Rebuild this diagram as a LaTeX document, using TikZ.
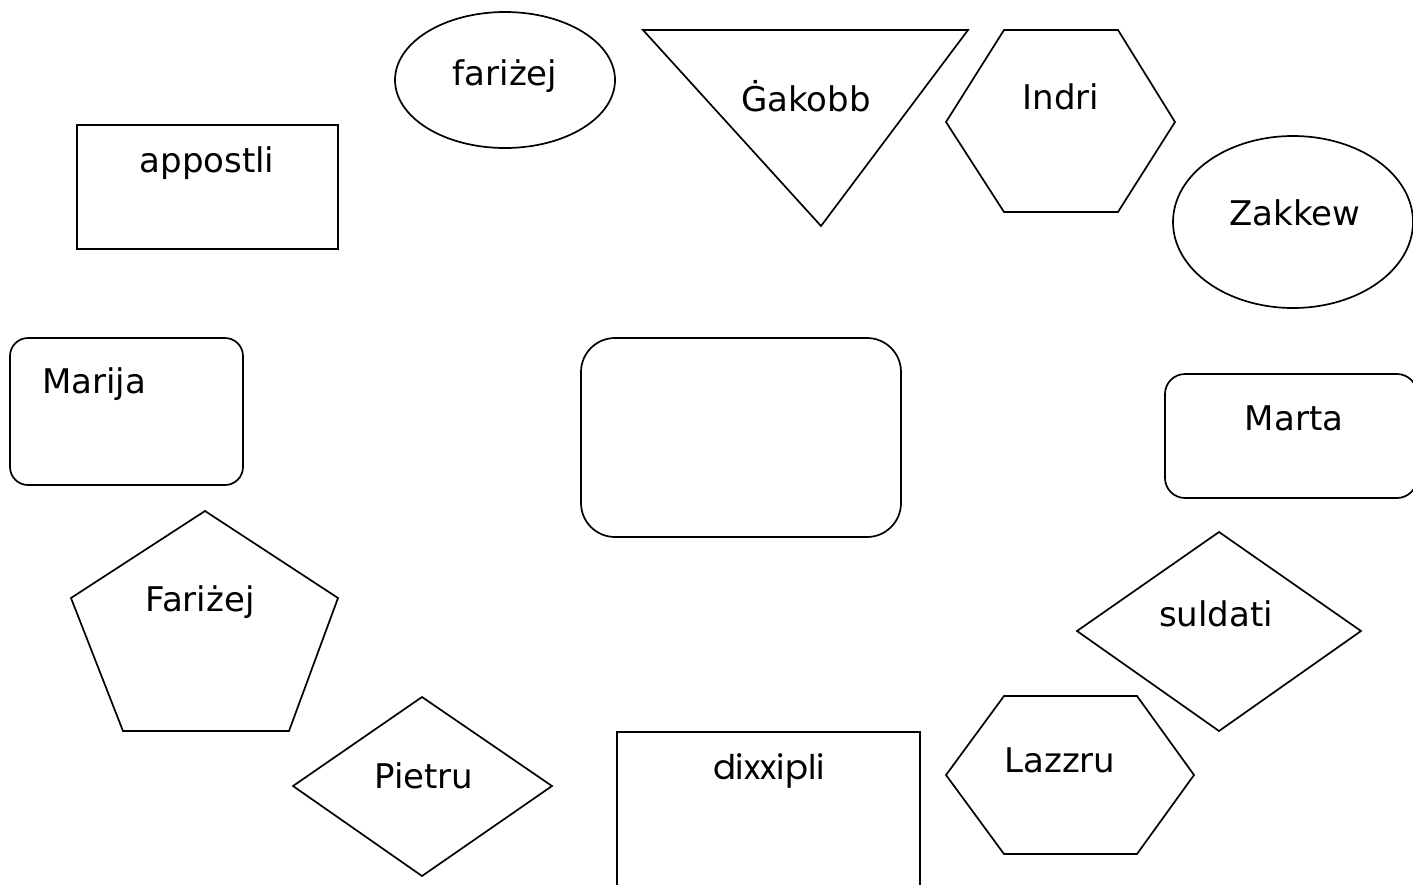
\documentclass[tikz,border=0pt]{standalone}
\usepackage{fontspec}
\setmainfont{DejaVu Sans}
\newfontfamily\gothicfont{Poppins}
\usetikzlibrary{positioning}

\begin{document}
\begin{tikzpicture}[x=0.5pt,y=-0.5pt,
      shp/.style={draw=black, line width=0.85pt, fill=white},
      lbl/.style={inner sep=0pt, font=\fontsize{17}{20}\selectfont}]
    \useasboundingbox (0,0) rectangle (1413,884);
    \clip (0,0) rectangle (1413,884);
    \draw[shp] (77,125) rectangle (338,249);
    \draw[shp] (505,80) ellipse [x radius=110, y radius=68];
    \draw[shp] (643,30) -- (968,30) -- (821,226) -- cycle;
    \draw[shp] (1004,30) -- (1118,30) -- (1175,122) -- (1118,212) -- (1004,212) -- (946,122) -- cycle;
    \draw[shp] (1293,222) ellipse [x radius=120, y radius=86];
    \draw[shp, rounded corners=9pt] (10,338) rectangle (243,485);
    \draw[shp, rounded corners=17pt] (581,338) rectangle (901,537);
    \draw[shp, rounded corners=10pt] (1165,374) rectangle (1417,498);
    \draw[shp] (205,511) -- (338,598) -- (289,731) -- (123,731) -- (71,598) -- cycle;
    \draw[shp] (1219,532) -- (1361,631) -- (1219,731) -- (1077,631) -- cycle;
    \draw[shp] (1004,696) -- (1137,696) -- (1194,775) -- (1137,854) -- (1004,854) -- (946,775) -- cycle;
    \draw[shp] (422,697) -- (552,786) -- (422,876) -- (293,786) -- cycle;
    \draw[shp] (617,732) rectangle (920,900);
    \node[lbl] (appostli) at (207,163) {appostli};
    \node[lbl] (farizej) at (505,76) {fariżej};
    \node[lbl] (gakobb) at (806,96) {Ġakobb};
    \node[lbl] (indri) at (1061,97) {Indri};
    \node[lbl] (zakkew) at (1295,213) {Zakkew};
    \node[lbl] (marija) at (94,384) {Marija};
    \node[lbl] (marta) at (1294,418) {Marta};
    \node[lbl] (farizejb) at (200,602) {Fariżej};
    \node[lbl] (suldati) at (1216,614) {suldati};
    \node[lbl] (lazzru) at (1060,760) {Lazzru};
    \node[lbl] (pietru) at (424,776) {Pietru};
    \node[lbl, font=\gothicfont\fontsize{17}{20}\selectfont] (dixxipli) at (769,771) {dixxipli};
  \end{tikzpicture}
\end{document}
